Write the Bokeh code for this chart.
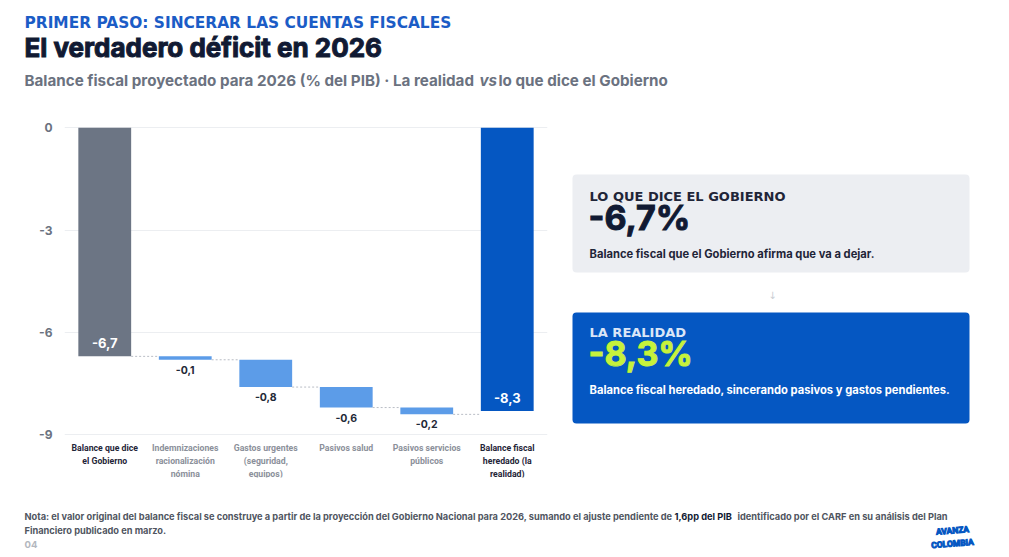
from bokeh.plotting import figure
from bokeh.layouts import column, row
from bokeh.models import Range1d, FixedTicker, BoxAnnotation
from bokeh.core.properties import value
from bokeh.embed import file_html
from bokeh.resources import INLINE

# ---- data -------------------------------------------------------------
categories = [
    "Balance que dice\nel Gobierno",
    "Indemnizaciones\nracionalización\nnómina",
    "Gastos urgentes\n(seguridad,\nequipos)",
    "Pasivos salud",
    "Pasivos servicios\npúblicos",
    "Balance fiscal\nheredado (la\nrealidad)",
]
values = [-6.7, -0.1, -0.8, -0.6, -0.2, -8.3]
kinds = ["total", "step", "step", "step", "step", "total"]
y_ticks = [0, -3, -6, -9]

gov_balance = -6.7
real_balance = -8.3
carf_adjustment = "1,6pp del PIB"

# ---- palette / fonts --------------------------------------------------
NAVY = "#111a33"
BLUE = "#0557c2"
ACCENT = "#1b5cc6"
GRAY_BAR = "#6c7584"
STEP_BLUE = "#5c9ce8"
MUTED = "#6b7280"
LIGHT_MUTED = "#8b909a"
LIME = "#c6f23c"
F_TITLE = value("Inter")
F_BODY = value("Roboto")
F_WIDE = value("DejaVu Sans")

# chart row borders (shared so frames line up across the row)
ROW_TOP, ROW_H = 100, 390
BORDER_TOP, BORDER_BOTTOM = 17, 13


def fmt(v):
    return f"{v:.1f}".replace(".", ",")


def canvas(w, h, x0, x1, y0, y1, **kw):
    p = figure(width=w, height=h, x_range=Range1d(x0, x1), y_range=Range1d(y1, y0),
               x_axis_location=None, y_axis_location=None,
               output_backend="svg", toolbar_location=None, **kw)
    p.outline_line_color = None
    p.xgrid.visible = False
    p.ygrid.visible = False
    return p


# ---- waterfall geometry ----------------------------------------------
idx = list(range(len(values)))
tops, bottoms = [], []
level = 0.0
for v, k in zip(values, kinds):
    if k == "total":
        tops.append(0.0)
        bottoms.append(v)
        level = v
    else:
        tops.append(level)
        bottoms.append(round(level + v, 2))
        level = round(level + v, 2)

colors = []
for i, k in enumerate(kinds):
    if k == "step":
        colors.append(STEP_BLUE)
    elif i == 0:
        colors.append(GRAY_BAR)
    else:
        colors.append(BLUE)

BAR_W = 0.656

# ---- header -------------------------------------------------------------
header = canvas(1009, 100, 0, 1009, 0, 100, min_border=0)
header.text(x=[24], y=[22], text=["PRIMER PASO: SINCERAR LAS CUENTAS FISCALES"],
            text_font=F_WIDE, text_font_style="bold", text_font_size="15.4px",
            text_color=ACCENT, text_baseline="middle")
header.text(x=[24], y=[47], text=["El verdadero déficit en 2026"],
            text_font=F_TITLE, text_font_style="bold", text_font_size="26px",
            text_color=NAVY, text_outline_color=NAVY, text_baseline="middle")
header.text(x=[24, 479, 498], y=[80, 80, 80],
            text=["Balance fiscal proyectado para 2026 (% del PIB) · La realidad", "vs",
                  "lo que dice el Gobierno"],
            text_font=F_TITLE, text_font_style=["bold", "bold italic", "bold"],
            text_font_size="15.2px", text_color=MUTED, text_baseline="middle")

# ---- waterfall chart -------------------------------------------------
chart = figure(width=559, height=ROW_H, x_range=Range1d(-0.5, 5.5),
               y_range=Range1d(-10.25, 0.3),
               output_backend="svg", toolbar_location=None,
               min_border_left=64, min_border_right=12,
               min_border_top=BORDER_TOP, min_border_bottom=BORDER_BOTTOM)
chart.outline_line_color = None
chart.xaxis.visible = False
chart.xgrid.visible = False
chart.ygrid.ticker = FixedTicker(ticks=y_ticks)
chart.ygrid.grid_line_color = "#eceef1"
chart.yaxis.ticker = FixedTicker(ticks=y_ticks)
chart.yaxis.major_label_overrides = {t: str(t) for t in y_ticks}
chart.yaxis.axis_line_color = None
chart.yaxis.major_tick_line_color = None
chart.yaxis.minor_tick_line_color = None
chart.yaxis.major_label_standoff = 6
chart.yaxis.major_label_text_font = "Inter"
chart.yaxis.major_label_text_font_style = "bold"
chart.yaxis.major_label_text_font_size = "12px"
chart.yaxis.major_label_text_color = MUTED

chart.vbar(x=idx, top=tops, bottom=bottoms, width=BAR_W,
           fill_color=colors, line_color=None)

# dotted connectors between consecutive bars
cx0, cx1, cy = [], [], []
for i in range(len(values) - 1):
    cx0.append(i + BAR_W / 2)
    cx1.append(i + 1 - BAR_W / 2)
    cy.append(bottoms[i])
chart.segment(x0=cx0, y0=cy, x1=cx1, y1=cy, line_color="#b9bdc5",
              line_width=1, line_dash="2 2")

# value labels
tot_i = [i for i, k in enumerate(kinds) if k == "total"]
step_i = [i for i, k in enumerate(kinds) if k == "step"]
chart.text(x=tot_i, y=[bottoms[i] for i in tot_i], text=[fmt(values[i]) for i in tot_i],
           y_offset=-13, text_align="center", text_baseline="middle",
           text_font=F_TITLE, text_font_style="bold", text_font_size="13px",
           text_color="white")
chart.text(x=step_i, y=[bottoms[i] for i in step_i], text=[fmt(values[i]) for i in step_i],
           y_offset=10, text_align="center", text_baseline="middle",
           text_font=F_TITLE, text_font_style="bold", text_font_size="10.5px",
           text_color="#1f2937")

# category labels
cat_colors = ["#1f2538" if k == "total" else LIGHT_MUTED for k in kinds]
chart.text(x=idx, y=[y_ticks[-1]] * len(idx), text=categories,
           y_offset=8, text_align="center", text_baseline="top",
           text_font=F_BODY, text_font_style="bold", text_font_size="8.7px",
           text_line_height=1.3, text_color=cat_colors)

# ---- side panel (page-pixel coordinates) -----------------------------
panel = canvas(450, ROW_H, 559, 1009,
               ROW_TOP + BORDER_TOP, ROW_TOP + ROW_H - BORDER_BOTTOM,
               min_border_left=0, min_border_right=0,
               min_border_top=BORDER_TOP, min_border_bottom=BORDER_BOTTOM)
panel.add_layout(BoxAnnotation(left=572, right=969, top=174, bottom=272,
                               fill_color="#eceef2", fill_alpha=1, line_color=None,
                               border_radius=4, level="underlay"))
panel.add_layout(BoxAnnotation(left=572, right=969, top=312, bottom=423,
                               fill_color=BLUE, fill_alpha=1, line_color=None,
                               border_radius=4, level="underlay"))
panel.text(x=[589, 589], y=[196, 332], text=["LO QUE DICE EL GOBIERNO", "LA REALIDAD"],
           text_font=F_WIDE, text_font_style="bold", text_font_size="13px",
           text_color=["#1f2538", "#dbe6f7"], text_baseline="middle")
panel.text(x=[588, 588], y=[217, 353],
           text=[fmt(gov_balance) + "%", fmt(real_balance) + "%"],
           text_font=F_TITLE, text_font_style="bold", text_font_size="34px",
           text_color=[NAVY, LIME], text_outline_color=[NAVY, LIME],
           text_baseline="middle")
panel.text(x=[589, 589], y=[253, 389],
           text=["Balance fiscal que el Gobierno afirma que va a dejar.",
                 "Balance fiscal heredado, sincerando pasivos y gastos pendientes."],
           text_font=F_TITLE, text_font_style="bold", text_font_size="11.2px",
           text_color=["#1f2538", "white"], text_baseline="middle")
panel.text(x=[772], y=[295], text=["↓"], text_font=F_WIDE, text_font_size="10px",
           text_color="#c9cdd3", text_align="center", text_baseline="middle")

# ---- footer -------------------------------------------------------------
NOTE = "#50555f"
footer = canvas(1009, 67, 0, 1009, 490, 557, min_border=0)
footer.text(x=[24, 674, 737], y=[516, 516, 516],
            text=["Nota: el valor original del balance fiscal se construye a partir de la proyección "
                  "del Gobierno Nacional para 2026, sumando el ajuste pendiente de",
                  carf_adjustment,
                  "identificado por el CARF en su análisis del Plan"],
            text_font=F_TITLE, text_font_style="bold", text_font_size="9.25px",
            text_color=[NOTE, "#111a33", NOTE], text_baseline="middle")
footer.text(x=[24], y=[530], text=["Financiero publicado en marzo."],
            text_font=F_TITLE, text_font_style="bold", text_font_size="9.25px",
            text_color=NOTE, text_baseline="middle")
footer.text(x=[24], y=[544], text=["04"], text_font=F_TITLE, text_font_style="bold",
            text_font_size="9.5px", text_color="#b3b7be", text_baseline="middle")
footer.text(x=[952, 952], y=[530, 543], text=["AVANZA", "COLOMBIA"],
            text_font=F_BODY, text_font_style="bold", text_font_size="8.5px",
            text_color=BLUE, text_outline_color=BLUE, text_align="center",
            text_baseline="middle", angle=0.08)

layout = column(header, row(chart, panel, spacing=0), footer, spacing=0)
open("out.html", "w").write(file_html(layout, INLINE))
